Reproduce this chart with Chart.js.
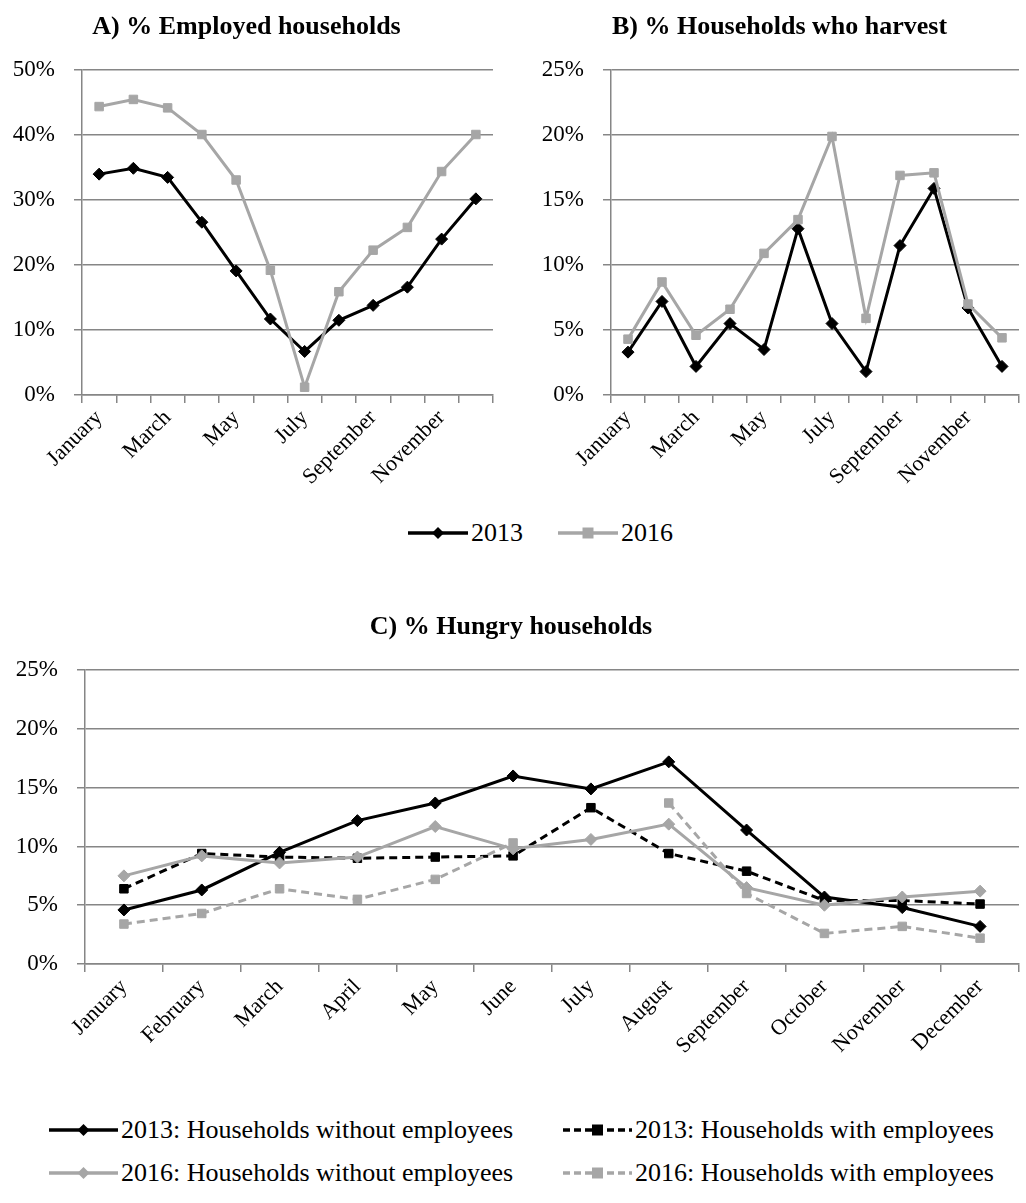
<!DOCTYPE html>
<html>
<head>
<meta charset="utf-8">
<title>Employment, harvest and hunger by month</title>
<script src="https://cdn.jsdelivr.net/npm/chart.js@4.4.1/dist/chart.umd.min.js"></script>
<style>
  html, body { margin: 0; padding: 0; background: #fff; }
  body { position: relative; width: 1026px; height: 1203px; overflow: hidden;
         font-family: 'Times New Roman', 'Liberation Serif', Tinos, 'DejaVu Serif', serif; color: #000; }
  canvas.chart { position: absolute; }
  .legend-item { position: absolute; display: flex; align-items: center; height: 30px;
                 font-size: 26px; white-space: nowrap; }
  .legend-item canvas { margin-right: 3px; }
</style>
</head>
<body>
<canvas id="employedChart" class="chart" width="513" height="500" style="left:0;top:0"></canvas>
<canvas id="harvestChart" class="chart" width="488" height="500" style="left:538px;top:0"></canvas>
<canvas id="hungryChart" class="chart" width="1026" height="500" style="left:0;top:600px"></canvas>
<div id="legendTop"></div>
<div id="legendBottom"></div>

<script>
const months = ['January', 'February', 'March', 'April', 'May', 'June', 'July',
  'August', 'September', 'October', 'November', 'December'];

// A) % employed households
const employed2013 = [34.0, 34.9, 33.5, 26.6, 19.1, 11.7, 6.7, 11.5, 13.8, 16.6, 24.0, 30.2];
const employed2016 = [44.4, 45.5, 44.2, 40.1, 33.1, 19.2, 1.2, 15.9, 22.3, 25.8, 34.4, 40.1];

// B) % households who harvest
const harvest2013 = [3.3, 7.2, 2.2, 5.5, 3.5, 12.8, 5.5, 1.8, 11.5, 15.9, 6.7, 2.2];
const harvest2016 = [4.3, 8.7, 4.6, 6.6, 10.9, 13.5, 19.9, 5.9, 16.9, 17.1, 7.0, 4.4];

// C) % hungry households (July missing for 2016 with employees)
const hungry2013Without = [4.6, 6.3, 9.5, 12.2, 13.7, 16.0, 14.9, 17.2, 11.4, 5.7, 4.8, 3.2];
const hungry2013With = [6.4, 9.4, 9.1, 9.0, 9.1, 9.2, 13.3, 9.4, 7.9, 5.4, 5.4, 5.1];
const hungry2016Without = [7.5, 9.2, 8.6, 9.1, 11.7, 9.8, 10.6, 11.9, 6.5, 5.0, 5.7, 6.2];
const hungry2016With = [3.4, 4.3, 6.4, 5.5, 7.2, 10.3, null, 13.7, 6.0, 2.6, 3.2, 2.2];

const yearLabels = ['2013', '2016'];
const hungryLabels = [
  '2013: Households without employees',
  '2013: Households with employees',
  '2016: Households without employees',
  '2016: Households with employees',
];
const ticksA = [0, 10, 20, 30, 40, 50];
const ticksBC = [0, 5, 10, 15, 20, 25];

const BLACK = '#000000';
const GREY = '#a6a6a6';
const AXIS = '#868686';
const DASH = [8, 5];

Chart.defaults.font.family = "'Times New Roman', 'Liberation Serif', Tinos, 'DejaVu Serif', serif";
Chart.defaults.color = '#000';

function series(label, data, color, dashed, marker) {
  return {
    label,
    data,
    borderColor: color,
    backgroundColor: color,
    borderWidth: 3,
    borderDash: dashed ? DASH : [],
    pointStyle: marker,
    pointRadius: 6,
    pointBorderWidth: 1,
    pointBorderColor: color,
    pointBackgroundColor: color,
    spanGaps: false,
    tension: 0,
  };
}

function buildChart(id, opts) {
  const ctx = document.getElementById(id);
  const datasets = opts.datasets.map((ds, i) => ({ ...ds, order: opts.datasets.length - i }));
  return new Chart(ctx, {
    type: 'line',
    data: { labels: months, datasets },
    options: {
      responsive: false,
      animation: false,
      layout: { padding: { left: 0, right: opts.padRight, top: 0, bottom: 0 } },
      plugins: {
        legend: { display: false },
        tooltip: { enabled: false },
        title: {
          display: true,
          text: opts.title,
          font: { size: 26, weight: 'bold' },
          color: '#000',
          padding: { top: 12, bottom: 27 },
        },
      },
      scales: {
        x: {
          type: 'category',
          offset: true,
          grid: { offset: true, drawOnChartArea: false, drawTicks: true, tickLength: 8, color: AXIS, lineWidth: 1.5 },
          border: { color: AXIS, width: 1.5 },
          ticks: {
            autoSkip: false,
            maxRotation: 45,
            minRotation: 45,
            padding: 2,
            font: { size: 22 },
            callback: (value, index) => (opts.everyOther && index % 2 === 1 ? '' : months[index]),
          },
          afterFit: (scale) => { scale.height = opts.xHeight; },
        },
        y: {
          min: opts.ticks[0],
          max: opts.ticks[opts.ticks.length - 1],
          afterBuildTicks: (scale) => { scale.ticks = opts.ticks.map((v) => ({ value: v })); },
          grid: { color: AXIS, lineWidth: 1.5, tickLength: 8, drawTicks: true },
          border: { color: AXIS, width: 1.5 },
          ticks: {
            padding: 19,
            font: { size: 23 },
            callback: (v) => `${v}%`,
          },
          afterFit: (scale) => { scale.width = opts.yWidth; },
        },
      },
    },
  });
}

function legendIcon(color, dashed, marker, width) {
  const c = document.createElement('canvas');
  c.width = width;
  c.height = 20;
  const g = c.getContext('2d');
  g.strokeStyle = color;
  g.fillStyle = color;
  g.lineWidth = 3.5;
  g.setLineDash(dashed ? [7, 4] : []);
  g.beginPath();
  g.moveTo(0, 10);
  g.lineTo(width, 10);
  g.stroke();
  const mx = width / 2;
  g.beginPath();
  if (marker === 'rectRot') {
    g.moveTo(mx, 4); g.lineTo(mx + 6, 10); g.lineTo(mx, 16); g.lineTo(mx - 6, 10);
  } else {
    g.rect(mx - 5.5, 4.5, 11, 11);
  }
  g.closePath();
  g.fill();
  return c;
}

function addLegendItem(parent, text, icon, left, top) {
  const item = document.createElement('div');
  item.className = 'legend-item';
  item.style.left = `${left}px`;
  item.style.top = `${top}px`;
  item.appendChild(icon);
  const span = document.createElement('span');
  span.textContent = text;
  item.appendChild(span);
  parent.appendChild(item);
}

function initCharts() {
  buildChart('employedChart', {
    title: 'A) % Employed households',
    datasets: [
      series(yearLabels[0], employed2013, BLACK, false, 'rectRot'),
      series(yearLabels[1], employed2016, GREY, false, 'rect'),
    ],
    ticks: ticksA, yWidth: 82, xHeight: 105, padRight: 20, everyOther: true,
  });

  buildChart('harvestChart', {
    title: 'B) % Households who harvest',
    datasets: [
      series(yearLabels[0], harvest2013, BLACK, false, 'rectRot'),
      series(yearLabels[1], harvest2016, GREY, false, 'rect'),
    ],
    ticks: ticksBC, yWidth: 73, xHeight: 105, padRight: 5, everyOther: true,
  });

  buildChart('hungryChart', {
    title: 'C) % Hungry households',
    datasets: [
      series(hungryLabels[0], hungry2013Without, BLACK, false, 'rectRot'),
      series(hungryLabels[1], hungry2013With, BLACK, true, 'rect'),
      series(hungryLabels[2], hungry2016Without, GREY, false, 'rectRot'),
      series(hungryLabels[3], hungry2016With, GREY, true, 'rect'),
    ],
    ticks: ticksBC, yWidth: 85, xHeight: 136, padRight: 4, everyOther: false,
  });

  const top = document.getElementById('legendTop');
  addLegendItem(top, yearLabels[0], legendIcon(BLACK, false, 'rectRot', 60), 408, 518);
  addLegendItem(top, yearLabels[1], legendIcon(GREY, false, 'rect', 60), 558, 518);

  const bottom = document.getElementById('legendBottom');
  addLegendItem(bottom, hungryLabels[0], legendIcon(BLACK, false, 'rectRot', 69), 49, 1115);
  addLegendItem(bottom, hungryLabels[1], legendIcon(BLACK, true, 'rect', 69), 563, 1115);
  addLegendItem(bottom, hungryLabels[2], legendIcon(GREY, false, 'rectRot', 69), 49, 1158);
  addLegendItem(bottom, hungryLabels[3], legendIcon(GREY, true, 'rect', 69), 563, 1158);
}

window.addEventListener('DOMContentLoaded', () => {
  initCharts();
});
</script>
</body>
</html>
